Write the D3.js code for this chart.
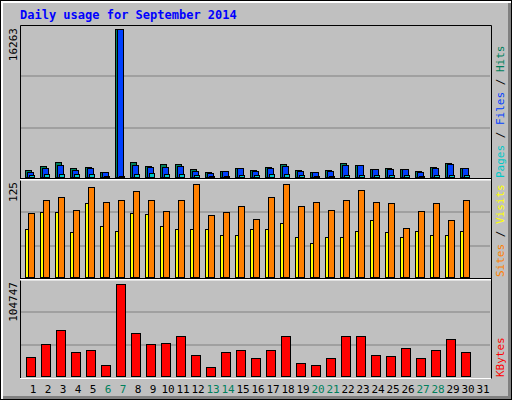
<!DOCTYPE html>
<meta charset="utf-8">
<script src="https://d3js.org/d3.v7.min.js"></script>
<style>body{margin:0;background:#fff}</style>
<div id="chart"></div>
<script>
  // days of the month, weekend days drawn in green
  var days = d3.range(1, 32);
  var weekend = [6, 7, 13, 14, 20, 21, 27, 28];

  var hits  = [770,1210,1650,990,1100,550,16263,1650,1210,1430,1430,880,550,660,990,770,1100,1430,770,550,770,1540,1320,880,990,880,660,1100,1540,990];
  var files = [550,990,1320,770,990,550,16263,1320,1100,1100,1210,660,440,660,990,660,990,1210,660,550,660,1320,1320,880,880,880,550,990,1430,990];
  var pages = [220,330,330,330,330,110,110,330,440,330,330,220,110,110,220,220,330,330,220,110,110,220,220,220,220,220,110,220,220,220];
  var visits = [65,88,88,60,99,69,62,86,85,68,65,65,65,57,57,65,64,73,54,46,54,54,62,76,60,54,62,57,57,62];
  var sites  = [86,104,107,90,121,101,104,116,104,89,103,125,84,88,96,78,107,125,95,101,90,103,117,101,99,66,89,99,76,103];
  var kbytes = [22173,35936,51993,26761,29055,12998,104747,48552,35936,37083,45111,24467,10704,26761,29055,21026,29055,45111,15292,12998,21026,45111,45111,24467,23320,31349,21026,29055,41671,26761];

  var W = 512, H = 400, mono = "'DejaVu Sans Mono', monospace";
  var svg = d3.select("#chart").append("svg").attr("width", W).attr("height", H);

  // outer frame with bevel
  svg.append("rect").attr("x", 0).attr("y", 0).attr("width", W).attr("height", H).attr("fill", "#000");
  svg.append("rect").attr("x", 1).attr("y", 1).attr("width", W - 2).attr("height", H - 2).attr("fill", "#fff");
  svg.append("rect").attr("x", 3).attr("y", 3).attr("width", W - 4).attr("height", H - 4).attr("fill", "#808080");
  svg.append("rect").attr("x", 3).attr("y", 3).attr("width", W - 7).attr("height", H - 7).attr("fill", "#c0c0c0");

  svg.append("text").attr("x", 20).attr("y", 19).attr("fill", "#0000ff")
    .style("font", "bold 12px " + mono).text("Daily usage for September 2014");

  var x = d3.scaleLinear().domain([1, 32]).range([25, 490]);

  var panels = [
    {top: 25, bottom: 179, y: d3.scaleLinear().domain([0, 16263]).range([177, 29]), max: "16263"},
    {top: 179, bottom: 279, y: d3.scaleLinear().domain([0, 125]).range([277, 184]), max: "125"},
    {top: 279, bottom: 378, y: d3.scaleLinear().domain([0, 104747]).range([376, 284]), max: "104747"}
  ];

  panels.forEach(function(p) {
    var h = p.bottom - p.top;
    [1, 2].forEach(function(k) {
      var gy = p.top + Math.round(h * k / 3);
      svg.append("line").attr("x1", 21).attr("x2", 490).attr("y1", gy).attr("y2", gy)
        .attr("stroke", "#808080").attr("stroke-width", 1);
    });
    svg.append("text").attr("transform", "translate(17," + (p.top + 3) + ") rotate(-90)")
      .attr("text-anchor", "end").style("font", "11px " + mono).attr("fill", "#000").text(p.max);
  });

  // frames
  svg.append("path").attr("d", "M20.5,378.5V25.5H491.5V378.5").attr("fill", "none").attr("stroke", "#000");
  svg.append("line").attr("x1", 20).attr("x2", 491).attr("y1", 378.5).attr("y2", 378.5).attr("stroke", "#fff");
  [179.5, 279.5].forEach(function(yy) {
    svg.append("line").attr("x1", 20).attr("x2", 491).attr("y1", yy).attr("y2", yy).attr("stroke", "#fff").attr("stroke-width", 2);
    svg.append("line").attr("x1", 20).attr("x2", 491).attr("y1", yy - 1).attr("y2", yy - 1).attr("stroke", "#000");
  });

  function bars(data, panel, dx, w, color) {
    var y = panel.y;
    svg.append("g").selectAll("rect").data(data).enter().append("rect")
      .attr("x", function(d, i) { return x(i + 1) + dx + 0.5; })
      .attr("y", function(d) { return Math.round(y(d)) + 0.5; })
      .attr("width", w)
      .attr("height", function(d) { return Math.max(1, Math.round(y(0) - y(d))); })
      .attr("fill", color).attr("stroke", "#000");
  }

  bars(hits, panels[0], 0, 6, "#00805c");
  bars(files, panels[0], 2, 6, "#0040ff");
  bars(pages, panels[0], 4, 5, "#00c8c8");
  bars(visits, panels[1], 0, 4, "#ffff00");
  bars(sites, panels[1], 3, 6, "#ff8000");
  bars(kbytes, panels[2], 1, 9, "#ff0000");

  // day labels
  svg.append("g").selectAll("text").data(days).enter().append("text")
    .attr("x", function(d) { return x(d) + 8; }).attr("y", 393)
    .attr("text-anchor", "middle").style("font", "11px " + mono)
    .attr("fill", function(d) { return weekend.indexOf(d) >= 0 ? "#00805c" : "#000"; })
    .text(function(d) { return d; });

  // right side legends
  function legend(y0, parts) {
    var t = svg.append("text").attr("transform", "translate(504," + y0 + ") rotate(-90)")
      .style("font", "11px " + mono);
    parts.forEach(function(p) { t.append("tspan").attr("fill", p[1]).text(p[0]); });
  }
  legend(178, [["Pages", "#00c8c8"], [" / ", "#000"], ["Files", "#0040ff"], [" / ", "#000"], ["Hits", "#00805c"]]);
  legend(277, [["Sites", "#ff8000"], [" / ", "#000"], ["Visits", "#ffff00"]]);
  legend(377, [["KBytes", "#ff0000"]]);
</script>
